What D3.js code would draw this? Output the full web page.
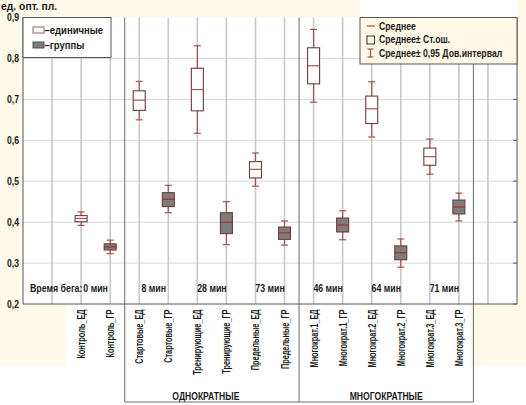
<!DOCTYPE html>
<html><head><meta charset="utf-8">
<script src="https://cdn.jsdelivr.net/npm/d3@7/dist/d3.min.js"></script>
<style>
body{margin:0;background:#fff}
svg{display:block}
text{font-family:"Liberation Sans",Arial,sans-serif;font-weight:bold;fill:#1a1a1a}
</style>
</head><body><svg id="c" width="526" height="405"></svg>
<script>
// ---------------- data ----------------
const categories = ["Контроль_ЕД","Контроль_ГР","Стартовые_ЕД","Стартовые_ГР","Тренирующие_ЕД","Тренирующие_ГР",
  "Предельные_ЕД","Предельные_ГР","Многократ.1_ЕД","Многократ.1_ГР","Многократ.2_ЕД","Многократ.2_ГР","Многократ.3_ЕД","Многократ.3_ГР"];
const kinds  = ["ЕД","ГР","ЕД","ГР","ЕД","ГР","ЕД","ГР","ЕД","ГР","ЕД","ГР","ЕД","ГР"];
const means  = [0.409,0.3395,0.698,0.456,0.724,0.400,0.529,0.374,0.782,0.393,0.677,0.325,0.560,0.437];
const seLow  = [0.401,0.332,0.673,0.438,0.672,0.372,0.508,0.358,0.738,0.376,0.641,0.308,0.539,0.420];
const seHigh = [0.416,0.347,0.721,0.472,0.776,0.423,0.548,0.388,0.826,0.410,0.708,0.342,0.581,0.454];
const ciLow  = [0.392,0.323,0.650,0.423,0.617,0.345,0.488,0.344,0.693,0.357,0.608,0.290,0.517,0.403];
const ciHigh = [0.425,0.356,0.744,0.490,0.831,0.450,0.569,0.403,0.871,0.428,0.743,0.359,0.603,0.471];
const yTicks = [0.2,0.3,0.4,0.5,0.6,0.7,0.8,0.9];
const timePrefix = "Время бега: ";
const timeLabels = ["0 мин","8 мин","28 мин","73 мин","46 мин","64 мин","71 мин"];
const groupLabels = ["ОДНОКРАТНЫЕ","МНОГОКРАТНЫЕ"];
const groupMembers = [["Стартовые_ЕД","Предельные_ГР"],["Многократ.1_ЕД","Многократ.3_ГР"]];
const yTitle = "ед. опт. пл.";
const legendKinds = ["–единичные","–группы"];
const legendStats = ["Среднее","Среднее± Ст.ош.","Среднее± 0,95 Дов.интервал"];

// ---------------- layout ----------------
const svg = d3.select("#c");
const L = 23, R = 517, T = 17.5, B = 304;
const slots = ["_s0","_s1", ...categories, "_s16","_s17"];
const x = d3.scalePoint().domain(slots).range([L, R]).padding(0);
const y = d3.scaleLinear().domain([0.2, 0.9]).range([B, T]);
const fmt = v => d3.format(".1f")(v).replace(".", ",");

const cream = "#fff9ea";
svg.append("rect").attr("width",526).attr("height",405).attr("fill",cream);
svg.append("rect").attr("x",360).attr("y",0).attr("width",157).attr("height",T).attr("fill","#fff");
svg.append("rect").attr("x",66).attr("y",B).attr("width",404).attr("height",405-B).attr("fill","#fff");
svg.append("rect").attr("x",0).attr("y",366).attr("width",526).attr("height",40).attr("fill","#fff");
svg.append("rect").attr("x",L).attr("y",T).attr("width",R-L).attr("height",B-T).attr("fill","#fff");

// grid
svg.append("g").selectAll("line").data(yTicks.slice(1,-1)).join("line")
  .attr("x1",L).attr("x2",R).attr("y1",d=>y(d)).attr("y2",d=>y(d))
  .attr("stroke","#d6d6d6").attr("stroke-width",1);
svg.append("g").selectAll("line").data(slots.slice(1,-1)).join("line")
  .attr("x1",d=>x(d)).attr("x2",d=>x(d)).attr("y1",T).attr("y2",B)
  .attr("stroke","#c8c8c8").attr("stroke-width",1.6);

// separators (group brackets)
const sepPos = [
  (x(categories[1])+x(categories[2]))/2,
  (x(categories[7])+x(categories[8]))/2,
  (x(categories[13])+x(slots[16]))/2
];
svg.append("g").selectAll("line").data(sepPos).join("line")
  .attr("x1",d=>d).attr("x2",d=>d).attr("y1",T).attr("y2",402)
  .attr("stroke","#6a6a6a").attr("stroke-width",1);
svg.append("g").selectAll("line").data([[sepPos[0],sepPos[1]],[sepPos[1],sepPos[2]]]).join("line")
  .attr("x1",d=>d[0]).attr("x2",d=>d[1]).attr("y1",402).attr("y2",402)
  .attr("stroke","#6a6a6a").attr("stroke-width",1);

// axes frame
const frame = svg.append("g").attr("stroke","#555").attr("stroke-width",1).attr("fill","none");
frame.append("line").attr("x1",L).attr("x2",L).attr("y1",T).attr("y2",B);
frame.append("line").attr("x1",L).attr("x2",R).attr("y1",B).attr("y2",B);
frame.append("line").attr("x1",R).attr("x2",R).attr("y1",T).attr("y2",B);
svg.append("g").selectAll("line").data(yTicks).join("line")
  .attr("x1",R-4).attr("x2",R).attr("y1",d=>y(d)).attr("y2",d=>y(d)).attr("stroke","#555");

// y tick labels
svg.append("g").selectAll("text").data(yTicks).join("text")
  .attr("transform",d=>`translate(19,${y(d)+3.8}) scale(0.82,1)`)
  .attr("text-anchor","end").attr("font-size",10.5).text(fmt);

// title
svg.append("text").attr("transform","translate(1,9.5) scale(0.9,1)").attr("font-size",11.5).text(yTitle);

// boxes
const bw = 12, cw = 7;
const g = svg.append("g").selectAll("g").data(categories).join("g")
  .attr("transform",d=>`translate(${x(d)},0)`);
const whisk = "#a85050";
g.append("line").attr("x1",0).attr("x2",0).attr("y1",(d,i)=>y(ciHigh[i])).attr("y2",(d,i)=>y(ciLow[i]))
  .attr("stroke",whisk).attr("stroke-width",1.2);
g.append("line").attr("x1",-cw/2).attr("x2",cw/2).attr("y1",(d,i)=>y(ciHigh[i])).attr("y2",(d,i)=>y(ciHigh[i]))
  .attr("stroke",whisk).attr("stroke-width",1.2);
g.append("line").attr("x1",-cw/2).attr("x2",cw/2).attr("y1",(d,i)=>y(ciLow[i])).attr("y2",(d,i)=>y(ciLow[i]))
  .attr("stroke",whisk).attr("stroke-width",1.2);
g.append("rect").attr("x",-bw/2).attr("width",bw)
  .attr("y",(d,i)=>y(seHigh[i])).attr("height",(d,i)=>y(seLow[i])-y(seHigh[i]))
  .attr("fill",(d,i)=>kinds[i]==="ГР"?"#7d7d7d":"#fff")
  .attr("stroke","#6a3c3c").attr("stroke-width",1.1);
g.append("line").attr("x1",-bw/2).attr("x2",bw/2).attr("y1",(d,i)=>y(means[i])).attr("y2",(d,i)=>y(means[i]))
  .attr("stroke",(d,i)=>kinds[i]==="ГР"?"#b02a2a":"#a85050").attr("stroke-width",1.2);

// time labels
const tl = svg.append("g");
timeLabels.forEach((t,i)=>{
  const cx = (x(categories[2*i])+x(categories[2*i+1]))/2;
  const el = tl.append("text").attr("transform",`translate(${cx},292) scale(0.88,1)`)
    .attr("text-anchor","middle").attr("font-size",10).text(t);
  if(i===0){
    const w = el.node().getComputedTextLength()*0.88;
    tl.append("text").attr("transform",`translate(${cx-w/2-1},292) scale(0.88,1)`)
      .attr("text-anchor","end").attr("font-size",10).text(timePrefix);
  }
});

// rotated category labels
svg.append("g").selectAll("text").data(categories).join("text")
  .attr("transform",d=>`translate(${x(d)+4},309.5) rotate(-90) scale(0.68,1)`)
  .attr("text-anchor","end").attr("font-size",10.8).text(d=>d);

// group labels
groupLabels.forEach((t,i)=>{
  const cx = (x(groupMembers[i][0])+x(groupMembers[i][1]))/2 - (i===0?6:0);
  svg.append("text").attr("transform",`translate(${cx},399.5) scale(0.86,1)`)
    .attr("text-anchor","middle").attr("font-size",10).text(t);
});

// legend: kinds
const lg = svg.append("g");
lg.append("rect").attr("x",L).attr("y",T).attr("width",88).attr("height",40)
  .attr("fill","#fff").attr("stroke","#555");
legendKinds.forEach((t,i)=>{
  const yy = 30 + i*15;
  lg.append("rect").attr("x",33).attr("y",yy-3).attr("width",11).attr("height",6)
    .attr("fill",i===0?"#fff":"#7d7d7d").attr("stroke",i===0?"#9a5a5a":"#555");
  lg.append("text").attr("transform",`translate(44.5,${yy+3.8}) scale(0.95,1)`)
    .attr("font-size",10).text(t);
});

// legend: stats
const ls = svg.append("g");
ls.append("rect").attr("x",360).attr("y",T).attr("width",R-360).attr("height",46.5)
  .attr("fill","#fff8e6").attr("stroke","#555");
legendStats.forEach((t,i)=>{
  const yy = 26 + i*13.5;
  ls.append("text").attr("transform",`translate(379,${yy+3.8}) scale(0.87,1)`)
    .attr("font-size",10).text(t);
});
ls.append("line").attr("x1",367).attr("x2",375).attr("y1",26).attr("y2",26).attr("stroke",whisk).attr("stroke-width",1.2);
ls.append("rect").attr("x",367).attr("y",36).attr("width",7.5).attr("height",8).attr("fill","none").attr("stroke","#333");
ls.append("line").attr("x1",370.5).attr("x2",370.5).attr("y1",49).attr("y2",57).attr("stroke",whisk).attr("stroke-width",1.2);
ls.append("line").attr("x1",367.5).attr("x2",373.5).attr("y1",49).attr("y2",49).attr("stroke",whisk).attr("stroke-width",1.2);
ls.append("line").attr("x1",367.5).attr("x2",373.5).attr("y1",57).attr("y2",57).attr("stroke",whisk).attr("stroke-width",1.2);
</script>
</body></html>
